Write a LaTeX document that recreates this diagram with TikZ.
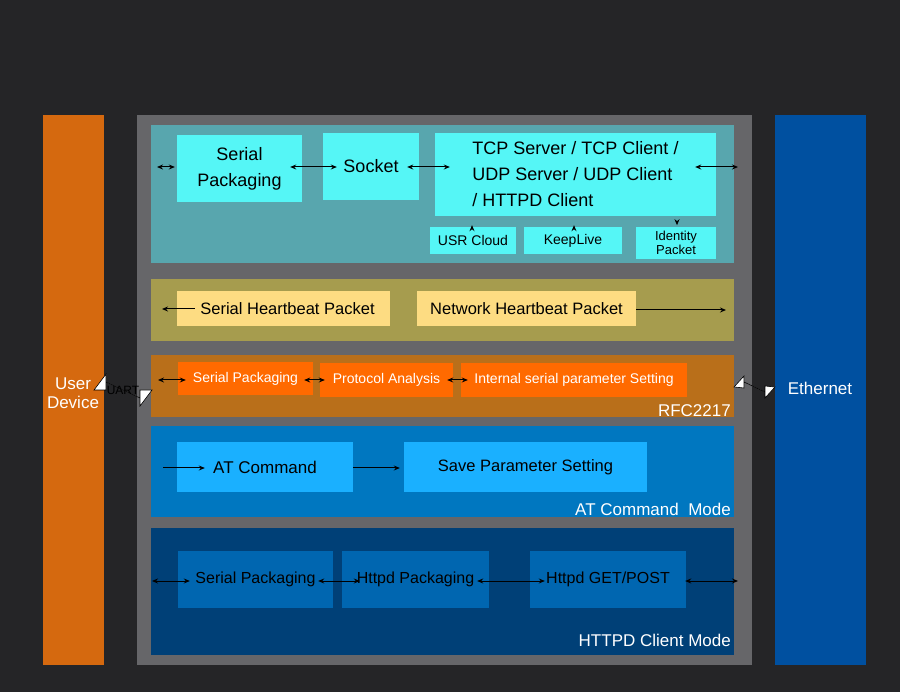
\documentclass[tikz,border=0pt]{standalone}
\usepackage{fontspec}
\setmainfont{Liberation Sans}
\usetikzlibrary{arrows.meta}
\definecolor{bg}{HTML}{252527}
\definecolor{gr}{HTML}{666669}
\definecolor{ud}{HTML}{D5690F}
\definecolor{eth}{HTML}{0050A0}
\definecolor{teal}{HTML}{58A6AE}
\definecolor{cy}{HTML}{55F6F6}
\definecolor{olive}{HTML}{A69C4E}
\definecolor{pale}{HTML}{FDDC82}
\definecolor{brn}{HTML}{B96F1A}
\definecolor{org}{HTML}{FF6A00}
\definecolor{bl}{HTML}{0077C0}
\definecolor{lbl}{HTML}{1AB0FF}
\definecolor{dbl}{HTML}{004077}
\definecolor{mbl}{HTML}{0066B0}
\begin{document}
\begin{tikzpicture}[x=1pt,y=-1pt,
  box/.style={inner sep=0pt,align=center,text=black},
  ar/.style={-{Stealth[length=6pt,width=5pt]},line width=1pt,black},
  dar/.style={{Stealth[length=6pt,width=5pt]}-{Stealth[length=6pt,width=5pt]},line width=1pt,black},
  lab/.style={text=white,font=\fontsize{17}{19}\selectfont,inner sep=1pt}]
\fill[bg] (0,0) rectangle (900,692);
\useasboundingbox (0,0) rectangle (900,692);
\fill[ud] (43,115) rectangle (104,665);
\fill[gr] (137,115) rectangle (752,665);
\fill[eth] (775,115) rectangle (866,665);
\fill[teal] (151,125) rectangle (734,263);
\fill[olive] (151,279) rectangle (734,341);
\fill[brn] (151,355) rectangle (734,417);
\fill[bl] (151,426) rectangle (734,517);
\fill[dbl] (151,528) rectangle (734,655);
\node[lab,align=center] (ud) at (73,393) {User\\Device};
\node[lab] (eth) at (820,388) {Ethernet};
% band 1
\begin{scope}[every node/.append style={box,fill=cy}]
\node[minimum width=125,minimum height=67,font=\fontsize{18}{26}\selectfont] (sp1) at (239.5,168.5) {Serial\\Packaging};
\node[minimum width=96,minimum height=67,font=\fontsize{18}{22}\selectfont] (sock) at (371,166.5) {Socket};
\node[minimum width=281,minimum height=83,align=left,font=\fontsize{18}{26}\selectfont] (tcp) at (575.5,174.5) {TCP Server / TCP Client /\\UDP Server / UDP Client\\/ HTTPD Client};
\node[minimum width=86,minimum height=27,font=\fontsize{14}{16}\selectfont] (usr) at (473,240.5) {USR Cloud};
\node[minimum width=98,minimum height=27,font=\fontsize{14}{16}\selectfont] (kl) at (573,240.5) {KeepLive};
\node[minimum width=80,minimum height=32,font=\fontsize{13}{14}\selectfont] (idp) at (676,243) {Identity\\Packet};
\end{scope}
\coordinate (a1) at (157,167); \coordinate (a2) at (738,167);
\draw[dar] (a1) -- ([xshift=-2]sp1.west |- a1);
\draw[dar] ([xshift=-12]sp1.east |- a1) -- ([xshift=14]sock.west |- a1);
\draw[dar] ([xshift=-12]sock.east |- a1) -- ([xshift=15]tcp.west |- a1);
\draw[dar] ([xshift=-21]tcp.east |- a1) -- (a2);
\draw[ar] (usr.north -| 472,0) -- ([yshift=-9]tcp.south -| 472,0);
\draw[ar] (kl.north -| 574,0) -- ([yshift=-9]tcp.south -| 574,0);
\draw[ar] ([yshift=5]idp.north -| 677,0) -- ([yshift=-9]tcp.south -| 677,0);
% band 2
\node[box,fill=pale,minimum width=213,minimum height=35,font=\fontsize{16.5}{18}\selectfont] (shb) at (283.5,308.5) {\hspace*{8pt}Serial Heartbeat Packet};
\node[box,fill=pale,minimum width=219,minimum height=35,font=\fontsize{16.5}{18}\selectfont] (nhb) at (526.5,308.5) {Network Heartbeat Packet};
\coordinate (b1) at (162,309); \coordinate (b2) at (726,310);
\draw[ar] ([xshift=18]shb.west |- b1) -- (b1);
\draw[ar] (nhb.east |- b2) -- (b2);
% band 3
\begin{scope}[every node/.append style={box,fill=org,text=white,font=\fontsize{14}{16}\selectfont}]
\node[minimum width=135,minimum height=33] (o1) at (245.5,378.5) {Serial Packaging};
\node[minimum width=133,minimum height=34] (o2) at (386.5,380) {Protocol Analysis};
\node[minimum width=226,minimum height=34] (o3) at (574,380) {Internal serial parameter Setting};
\end{scope}
\coordinate (c1) at (158,380);
\draw[dar] (c1) -- ([xshift=8]o1.west |- c1);
\draw[dar] ([xshift=-9]o1.east |- c1) -- ([xshift=5]o2.west |- c1);
\draw[dar] ([xshift=-6]o2.east |- c1) -- ([xshift=7]o3.west |- c1);
\node[lab,anchor=south east] (rfc) at (732,418) {RFC2217};
% UART / Ethernet arrows
\coordinate (u1) at (94,390); \coordinate (u2) at (152,390);
\draw[fill=white,line width=0.6pt] (u1) -- ++(12,-16) -- ++(0,8) -- ([xshift=-12,yshift=-8]u2) -- ++(0,-8) -- (u2) -- ++(-12,16) -- ++(0,-8) -- ([xshift=12,yshift=8]u1) -- ++(0,8) -- cycle;
\node[text=black,font=\fontsize{12}{13}\selectfont,inner sep=0pt] (uart) at (123,390) {UART};
\coordinate (e1) at (734,387); \coordinate (e2) at (775,387);
\draw[fill=white,line width=0.6pt] (e1) -- ++(10,-11) -- ++(0,6) -- ([xshift=-10,yshift=-5]e2) -- ++(0,-6) -- (e2) -- ++(-10,11) -- ++(0,-6) -- ([xshift=10,yshift=5]e1) -- ++(0,6) -- cycle;
% band 4
\node[box,fill=lbl,minimum width=176,minimum height=50,font=\fontsize{17}{19}\selectfont] (at) at (265,467) {AT Command};
\node[box,fill=lbl,minimum width=243,minimum height=50,font=\fontsize{16.5}{18}\selectfont] (save) at (525.5,467) {Save Parameter Setting};
\coordinate (d1) at (163,468);
\draw[ar] (d1) -- ([xshift=28]at.west |- d1);
\draw[ar] (at.east |- d1) -- ([xshift=-4]save.west |- d1);
\node[lab,anchor=south east] (atm) at (732,517) {AT Command\ \ Mode};
% band 5
\begin{scope}[every node/.append style={box,fill=mbl,text=black,minimum height=57,font=\fontsize{16}{18}\selectfont}]
\node[minimum width=155] (h1) at (255.5,579.5) {Serial Packaging};
\node[minimum width=147] (h2) at (415.5,579.5) {Httpd Packaging};
\node[minimum width=156] (h3) at (608,579.5) {Httpd GET/POST};
\end{scope}
\coordinate (f1) at (152,581); \coordinate (f2) at (738,581);
\draw[dar] (f1) -- ([xshift=12]h1.west |- f1);
\draw[dar] ([xshift=-15]h1.east |- f1) -- ([xshift=18]h2.west |- f1);
\draw[dar] ([xshift=-12]h2.east |- f1) -- ([xshift=15]h3.west |- f1);
\draw[dar] ([xshift=-1]h3.east |- f1) -- (f2);
\node[lab,anchor=south east] (hcm) at (732,648) {HTTPD Client Mode};
\end{tikzpicture}
\end{document}
